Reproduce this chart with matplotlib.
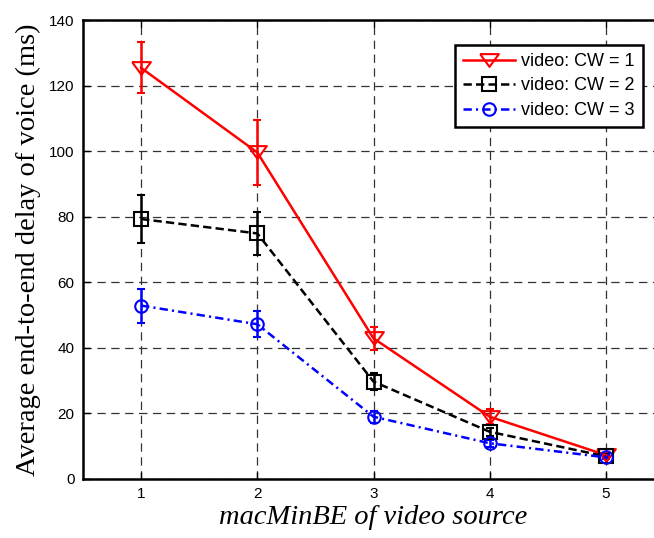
import matplotlib.pyplot as plt
import numpy as np

plt.rcParams['lines.scale_dashes'] = False

min_be = [1, 2, 3, 4, 5]

cw1_delay = [125.4, 99.6, 42.9, 19.0, 7.3]
cw1_err = [7.8, 9.8, 3.6, 2.2, 0.6]

cw2_delay = [79.3, 74.9, 29.7, 14.4, 6.9]
cw2_err = [7.3, 6.5, 2.6, 1.2, 0.6]

cw3_delay = [52.9, 47.2, 19.0, 10.9, 6.6]
cw3_err = [5.2, 3.9, 1.8, 1.0, 0.6]

# flat, wide downward triangle
tri_down = [(-1, 0.68), (1, 0.68), (0, -0.68), (-1, 0.68)]

fig = plt.figure(figsize=(6.54, 5.38), dpi=100)
# axes run slightly past the right border, like the exported figure
ax = fig.add_axes([83 / 654, 59 / 538, 581 / 654, 459 / 538])

series = [
    (cw1_delay, cw1_err, 'red', '-', tri_down, 13.5, 'video: CW = 1'),
    (cw2_delay, cw2_err, 'black', (0, (6, 3)), 's', 9.5, 'video: CW = 2'),
    (cw3_delay, cw3_err, 'blue', (0, (6, 3, 1.5, 3)), 'o', 9, 'video: CW = 3'),
]

handles, labels = [], []
for y, e, c, ls, mk, ms, lab in series:
    eb = ax.errorbar(min_be, y, yerr=e, color=c, linestyle=ls, linewidth=1.8,
                     marker=mk, markersize=ms, markerfacecolor='none',
                     markeredgewidth=1.5, ecolor=c, elinewidth=1.8,
                     capsize=3, capthick=1.8, zorder=3)
    handles.append(eb[0])
    labels.append(lab)

ax.set_xlim(0.5, 5.5)
ax.set_ylim(0, 140)
ax.set_xticks(min_be)
ax.set_yticks(np.arange(0, 141, 20))
ax.tick_params(direction='in', length=5, width=1, labelsize=11, pad=6,
               top=True, right=True)
for lbl in ax.get_xticklabels() + ax.get_yticklabels():
    lbl.set_family('Liberation Sans')

for sp in ax.spines.values():
    sp.set_linewidth(1.8)

ax.grid(True, color='#333333', linestyle=(0, (6, 4)), linewidth=0.9)
ax.set_axisbelow(True)

ax.set_xlabel('macMinBE of video source', fontsize=20.5, family='Liberation Serif',
              style='italic', labelpad=3)
ax.set_ylabel('Average end-to-end delay of voice (ms)', fontsize=20.5,
              family='Liberation Serif', labelpad=6)

leg = ax.legend(handles, labels, loc='upper right', bbox_to_anchor=(0.964, 0.946),
                prop={'family': 'Liberation Sans', 'size': 13},
                fancybox=False, framealpha=1, edgecolor='black',
                handlelength=2.9, borderpad=0.45, labelspacing=0.42,
                handletextpad=0.35, borderaxespad=0)
leg.get_frame().set_linewidth(1.8)

fig.savefig('out.png', dpi=100)
